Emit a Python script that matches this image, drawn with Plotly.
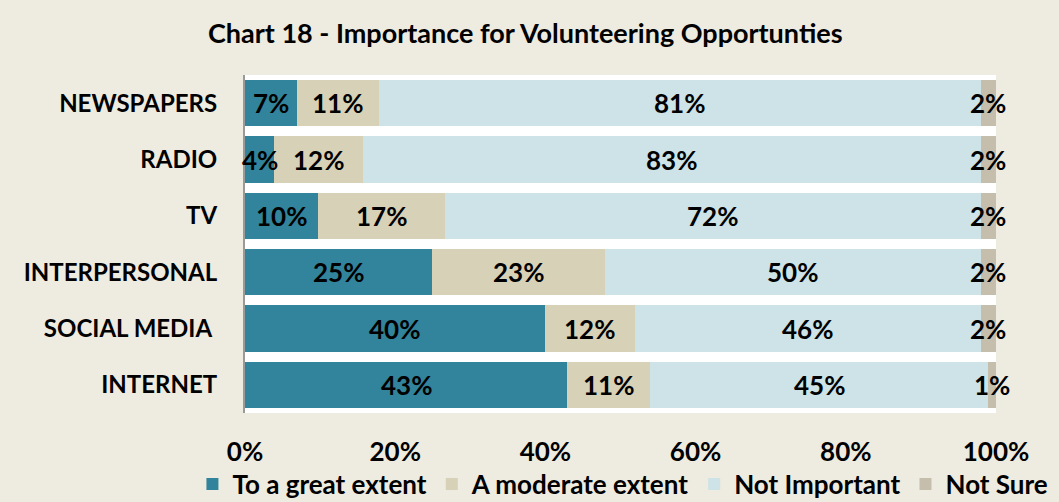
import plotly.graph_objects as go

categories = ["NEWSPAPERS", "RADIO", "TV", "INTERPERSONAL", "SOCIAL MEDIA\u00a0", "INTERNET"]
# segment sizes (percent)
great_extent = [6.9, 3.9, 9.7, 24.9, 39.9, 42.9]
moderate_extent = [10.9, 11.8, 16.9, 23.0, 12.0, 11.0]
not_important = [80.2, 82.3, 71.4, 50.1, 46.1, 45.1]
not_sure = [2.0, 2.0, 2.0, 2.0, 2.0, 1.0]
# data labels as printed on the chart
great_labels = ["7%", "4%", "10%", "25%", "40%", "43%"]
moderate_labels = ["11%", "12%", "17%", "23%", "12%", "11%"]
not_important_labels = ["81%", "83%", "72%", "50%", "46%", "45%"]
not_sure_labels = ["2%", "2%", "2%", "2%", "2%", "1%"]
x_ticks = [0, 20, 40, 60, 80, 100]
x_tick_labels = ["0%", "20%", "40%", "60%", "80%", "100%"]

series = [
    ("To a great extent", great_extent, great_labels, "#31849B"),
    ("A moderate extent", moderate_extent, moderate_labels, "#D7D1B7"),
    ("Not Important", not_important, not_important_labels, "#CDE3E7"),
    ("Not Sure", not_sure, not_sure_labels, "#C6BEAC"),
]

FONT = "Lato"
fig = go.Figure()
for name, vals, labels, col in series:
    fig.add_trace(go.Bar(
        y=categories, x=vals, name=name, orientation="h",
        marker=dict(color=col, line=dict(width=0)),
        hoverinfo="x+name",
    ))

# data labels centred on each segment
annotations = []
cum = [0] * len(categories)
for name, vals, labels, col in series:
    for i, v in enumerate(vals):
        annotations.append(dict(
            x=cum[i] + v / 2, y=categories[i], xref="x", yref="y",
            text=labels[i], showarrow=False,
            font=dict(family=FONT, size=26, color="black", weight="bold"),
        ))
        cum[i] += v

fig.update_layout(
    width=1059, height=502,
    paper_bgcolor="#EEEBE0", plot_bgcolor="white",
    margin=dict(l=245, r=63, t=75, b=89, autoexpand=False),
    barmode="stack", bargap=0.18,
    title=dict(text="<b>Chart 18 - Importance for Volunteering Opportunties</b>",
               x=0.496, xanchor="center", y=0.934, yanchor="middle",
               font=dict(family=FONT, size=27, color="black")),
    font=dict(family=FONT, color="black"),
    annotations=annotations,
    showlegend=True,
    legend=dict(orientation="h", xref="paper", yref="paper",
                x=-0.07, xanchor="left", y=-0.21, yanchor="middle",
                font=dict(family=FONT, size=26, color="black", weight="bold"),
                traceorder="normal", itemwidth=30,
                bgcolor="rgba(0,0,0,0)"),
)
fig.update_xaxes(range=[0, 100], tickvals=x_ticks, ticktext=x_tick_labels,
                 showgrid=False, zeroline=False, showline=False, automargin=False,
                 ticks="", ticklabelstandoff=21,
                 tickfont=dict(family=FONT, size=26, color="black", weight="bold"))
fig.update_yaxes(autorange="reversed", showgrid=False, automargin=False,
                 showline=True, linecolor="#9A9A9A", linewidth=2,
                 ticks="", ticklabelstandoff=21,
                 tickfont=dict(family=FONT, size=24, color="black", weight="bold"))

fig.write_html("out.html",
               config={"displayModeBar": False},
               post_script="document.body.style.margin='0';"
                           "document.body.style.background='#EEEBE0';")
